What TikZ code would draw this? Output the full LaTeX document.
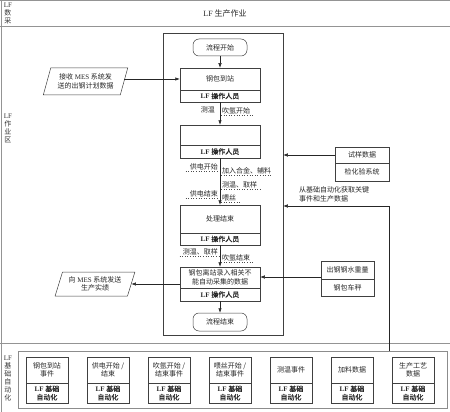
\documentclass[tikz,border=0pt]{standalone}
\usepackage{fontspec}
\setmainfont{Liberation Serif}
\newfontfamily\cjk{Noto Sans CJK SC}
\newfontfamily\cjkb[FakeBold=0.8]{Noto Sans CJK SC}
\newfontfamily\lat{Liberation Serif}
\usetikzlibrary{arrows.meta,shapes.geometric,calc}
\tikzset{
  frm/.style={draw=black!42, line width=1pt},
  bx/.style={draw=black!75, line width=0.5pt, minimum width=80pt, inner sep=1pt, align=center, text=black!85},
  ebx/.style={draw=black!75, line width=0.5pt, minimum width=42pt, inner sep=0.5pt, align=center, text=black!85},
  rbx/.style={draw=black!75, line width=0.5pt, minimum width=54pt, inner sep=1pt, align=center, text=black!85},
  term/.style={draw=black!75, line width=0.5pt, rounded corners=6pt, minimum width=54pt, minimum height=17pt, inner sep=1pt, text=black!85},
  para/.style={draw=black!75, line width=0.5pt, trapezium, trapezium left angle=70, trapezium right angle=110, trapezium stretches=true, align=center, inner sep=1pt, text=black!85},
  arr/.style={-{Latex[length=4.5pt,width=3.4pt]}, draw=black!85, line width=0.5pt},
  dot/.style={draw=black!70, dotted, line width=0.6pt},
  lbl/.style={inner sep=1pt, text=black!85},
  lane/.style={align=center, inner sep=0pt, text=black!80, font=\fontsize{7}{8}\cjk},
  opfont/.style={font=\fontsize{7}{8.6}\cjkb},
}
\begin{document}
\begin{tikzpicture}[x=1pt,y=-1pt, font=\fontsize{7}{8.6}\cjk]
\useasboundingbox (0,0) rectangle (450,412);
% lanes
\draw[frm] (0,0.8) -- (450,0.8);
\draw[frm] (0,27) -- (450,27);
\draw[frm] (0,343) -- (450,343);
\draw[frm] (1.2,0) -- (1.2,412);
\node[lane] (lane1) at (8,13.5) {{\lat LF}\\数\\采};
\node[lane] (lane2) at (8,128) {{\lat LF}\\作\\业\\区};
\node[lane] (lane3) at (8,378) {{\lat LF}\\基\\础\\自\\动\\化};
\node[lbl, font=\fontsize{8}{9}\cjk] (title) at (225,13.5) {{\lat LF} 生产作业};

% main container
\node[draw=black!75, line width=0.5pt, minimum width=120pt, minimum height=302pt, inner sep=0pt] (cont) at (223,184) {};

\node[term] (start) at (220,47.5) {流程开始};
\node[bx, minimum height=22pt] (b1t) at (220,79) {钢包到站};
\node[bx, minimum height=12pt, opfont] (b1b) at (220,96) {{\lat\bfseries LF} 操作人员};
\node[bx, minimum height=20pt] (b2t) at (220,135) {};
\node[bx, minimum height=13pt, opfont] (b2b) at (220,151.5) {{\lat\bfseries LF} 操作人员};
\node[bx, minimum height=28pt] (b3t) at (220,219) {处理结束};
\node[bx, minimum height=12pt, opfont] (b3b) at (220,239) {{\lat\bfseries LF} 操作人员};
\node[bx, minimum height=21pt] (b4t) at (220,277.5) {钢包离站录入相关不\\能自动采集的数据};
\node[bx, minimum height=13pt, opfont] (b4b) at (220,294.5) {{\lat\bfseries LF} 操作人员};
\node[term, minimum height=18pt] (end) at (220,322) {流程结束};

\draw[arr] (start.south) -- (b1t.north);
\draw[arr] (b1b.south) -- (b2t.north);
\draw[arr] (b2b.south) -- (b3t.north);
\draw[arr] (b3b.south) -- (b4t.north);
\draw[arr] (b4b.south) -- (end.north);

% event labels
\node[lbl, anchor=south east] (t1) at (216,114) {测温};
\node[lbl, anchor=south west] (t2) at (221,115) {吹氩开始};
\draw[dot] (t2.south west) -- ([xshift=1pt]t2.south east);
\node[lbl, anchor=south east] (t3) at (219,171.5) {供电开始};
\draw[dot] ([xshift=-3pt]t3.south west) -- (t3.south east);
\node[lbl, anchor=south west] (t4) at (221,175.5) {加入合金、辅料};
\draw[dot] (t4.south west) -- (t4.south east);
\node[lbl, anchor=south west] (t5) at (221,189.5) {测温、取样};
\draw[dot] (t5.south west) -- ([xshift=2pt]t5.south east);
\node[lbl, anchor=south east] (t6) at (219,198) {供电结束};
\draw[dot] ([xshift=-3pt]t6.south west) -- (t6.south east);
\node[lbl, anchor=south west] (t7) at (221,202.5) {喂丝};
\draw[dot] (t7.south west) -- ([xshift=2pt]t7.south east);
\node[lbl, anchor=south east] (t8) at (219,256.5) {测温、取样};
\draw[dot] ([xshift=-2pt]t8.south west) -- (t8.south east);
\node[lbl, anchor=south west] (t9) at (221,262) {吹氩结束};
\draw[dot] (t9.south west) -- ([xshift=2pt]t9.south east);

% left parallelograms
\node[para, minimum width=85pt, minimum height=27pt] (p1) at (85.5,81.5) {接收 {\lat MES} 系统发\\送的出钢计划数据};
\node[para, minimum width=80pt, minimum height=24pt] (p2) at (95,284) {向 {\lat MES} 系统发送\\生产实绩};
\draw[arr] (p1.east |- b1t.west) -- (b1t.west);
\draw[arr] (b4t.west |- p2.east) -- (p2.east);

% right sources
\node[rbx, minimum height=16pt] (s1t) at (362,155) {试样数据};
\node[rbx, minimum height=18pt] (s1b) at (362,172) {检化验系统};
\draw[arr] (s1t.west) -- (cont.east |- s1t.west);

\node[lbl, anchor=west, align=left, font=\fontsize{7}{8.8}\cjk] (kt) at (298,194.5) {从基础自动化获取关键\\事件和生产数据};

\node[rbx, minimum width=53pt, minimum height=18pt] (w1t) at (347.5,270) {出钢钢水重量};
\node[rbx, minimum width=53pt, minimum height=17pt] (w1b) at (347.5,287.5) {钢包车秤};
\coordinate (wc) at (321,277);
\draw[arr] (wc) -- (b4t.east |- wc);

% bottom lane
\node[draw=black!45, line width=0.8pt, minimum width=429pt, minimum height=57pt, inner sep=0pt] (bf) at (232.5,379.5) {};
\coordinate (kc) at (389,206);
\draw[arr] (bf.north -| kc) -- (kc) -- (cont.east |- kc);

\foreach \i/\x/\t in {1/47/{钢包到站\\事件}, 2/108/{供电开始 /\\结束}, 3/169/{吹氩开始 /\\结束事件}, 4/230/{喂丝开始 /\\结束事件}, 5/291/{测温事件}, 6/352/{加料数据}, 7/413/{生产工艺\\数据}}{
  \node[ebx, minimum height=26pt] (e\i t) at (\x,370) {\t};
  \node[ebx, minimum height=20pt, font=\fontsize{7}{8.4}\cjkb] (e\i b) at (\x,393) {{\lat\bfseries LF} 基础\\自动化};
}
\end{tikzpicture}
\end{document}
